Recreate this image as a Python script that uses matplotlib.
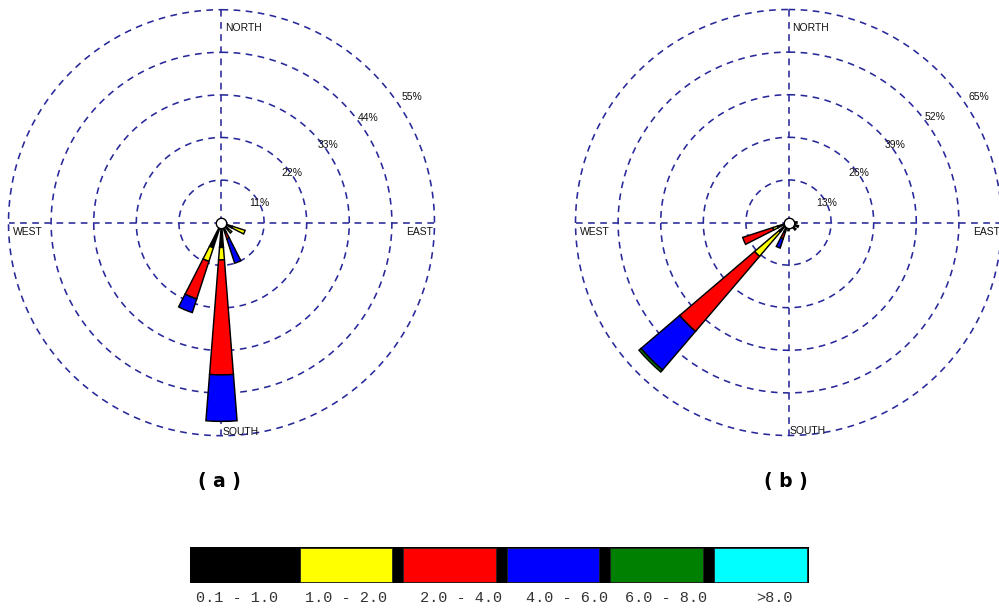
import numpy as np
import matplotlib
matplotlib.use('Agg')
import matplotlib.pyplot as plt
from matplotlib.patches import Rectangle

# ---------------- data ----------------
directions = ['N', 'NNE', 'NE', 'ENE', 'E', 'ESE', 'SE', 'SSE',
              'S', 'SSW', 'SW', 'WSW', 'W', 'WNW', 'NW', 'NNW']
speed_labels = ['0.1 - 1.0', '1.0 - 2.0', '2.0 - 4.0', '4.0 - 6.0', '6.0 - 8.0', '>8.0']
speed_colors = ['#000000', '#FFFF00', '#FF0000', '#0000FF', '#008000', '#00FFFF']

# (a) frequency (%) per direction for each wind-speed class
a_01_10 = [0, 0, 0, 0, 0, 3.0, 2.0, 2.6, 6.4, 6.8, 0, 0, 0, 0, 0, 0]
a_10_20 = [0, 0, 0, 0, 0, 3.4, 1.5, 0, 3.2, 3.7, 0, 0, 0, 0, 0, 0]
a_20_40 = [0, 0, 0, 0, 0, 0, 0, 1.8, 29.7, 10.2, 0, 0, 0, 0, 0, 0]
a_40_60 = [0, 0, 0, 0, 0, 0, 0, 6.6, 12.0, 3.7, 0, 0, 0, 0, 0, 0]
a_60_80 = [0, 0, 0, 0, 0, 0, 0, 0, 0, 0, 0, 0, 0, 0, 0, 0]
a_80_up = [0, 0, 0, 0, 0, 0, 0, 0, 0, 0, 0, 0, 0, 0, 0, 0]

# (b)
b_01_10 = [0, 0, 0, 0, 1.8, 2.0, 1.5, 0, 2.5, 3.0, 3.7, 3.5, 0, 0, 0, 0]
b_10_20 = [0, 0, 0, 0, 0.8, 1.2, 1.5, 0, 0, 0, 9.9, 1.5, 0, 0, 0, 0]
b_20_40 = [0, 0, 0, 0, 0, 0, 0, 0, 0, 2.2, 30.1, 9.7, 0, 0, 0, 0]
b_40_60 = [0, 0, 0, 0, 0, 0, 0, 0, 0, 3.0, 15.5, 0, 0, 0, 0, 0]
b_60_80 = [0, 0, 0, 0, 0, 0, 0, 0, 0, 0, 0.8, 0, 0, 0, 0, 0]
b_80_up = [0, 0, 0, 0, 0, 0, 0, 0, 0, 0, 0, 0, 0, 0, 0, 0]

rings_a = [11, 22, 33, 44, 55]
rings_b = [13, 26, 39, 52, 65]
ring_labels_a = ['11%', '22%', '33%', '44%', '55%']
ring_labels_b = ['13%', '26%', '39%', '52%', '65%']
panel_labels = ['( a )', '( b )']

# ---------------- layout ----------------
W, H = 999, 614
fig = plt.figure(figsize=(W / 100, H / 100), dpi=100)
fig.patch.set_facecolor('white')

grid_color = '#28289a'
dash = (0, (4.2, 3.4))
grid_lw = 1.15
lab_font = 'Liberation Sans'


def px_axes(cx, cy, R):
    return [(cx - R) / W, (H - cy - R) / H, 2 * R / W, 2 * R / H]


def draw_rose(cx, cy, R, classes, rings, ring_labels):
    ax = fig.add_axes(px_axes(cx, cy, R), projection='polar')
    ax.set_theta_zero_location('N')
    ax.set_theta_direction(-1)
    rmax = rings[-1]
    ax.set_ylim(0, rmax)
    ax.set_axis_off()

    # grid circles
    t = np.linspace(0, 2 * np.pi, 721)
    for r in rings:
        ax.plot(t, np.full_like(t, r), ls=dash, color=grid_color, lw=grid_lw,
                clip_on=False, zorder=1)
    # cross lines
    for ang in [0, 90, 180, 270]:
        a = np.deg2rad(ang)
        ax.plot([a, a], [0, rmax], ls=dash, color=grid_color, lw=grid_lw,
                clip_on=False, zorder=1)

    theta = np.deg2rad(np.arange(len(directions)) * 22.5)
    bottom = np.zeros(len(directions))
    for vals, col in zip(classes, speed_colors):
        v = np.asarray(vals, dtype=float)
        m = v > 0
        if m.any():
            ax.bar(theta[m], v[m], width=np.deg2rad(9), bottom=bottom[m],
                   color=col, edgecolor='black', linewidth=1.05, zorder=3)
        bottom += v

    # calm circle
    ax.plot([0], [0], 'o', ms=7.5, mfc='white', mec='black', mew=1.0,
            zorder=6, clip_on=False)

    # ring labels
    offs = [(38, -20), (70.5, -50), (106.5, -78), (147, -105), (190, -126)]
    for (dx, dy), txt in zip(offs, ring_labels):
        ax.annotate(txt, xy=(0, 0), xytext=(dx, -dy), textcoords='offset pixels',
                    ha='center', va='center', fontsize=7.5, family=lab_font,
                    color='#111111', zorder=7)
    # compass labels
    comp = [('NORTH', 4, R - 18.5, 'left'),
            ('WEST', -R + 4.5, -9.5, 'left'),
            ('EAST', R - 1.5, -9.5, 'right'),
            ('SOUTH', 1.5, -R + 4, 'left')]
    for txt, dx, dy, ha in comp:
        ax.annotate(txt, xy=(0, 0), xytext=(dx, dy), textcoords='offset pixels',
                    ha=ha, va='center', fontsize=7.5, family=lab_font,
                    color='#111111', zorder=7)
    return ax


draw_rose(221.5, 222.7, 213, [a_01_10, a_10_20, a_20_40, a_40_60, a_60_80, a_80_up],
          rings_a, ring_labels_a)
draw_rose(788.5, 222.5, 213, [b_01_10, b_10_20, b_20_40, b_40_60, b_60_80, b_80_up],
          rings_b, ring_labels_b)

# panel labels
for x, txt in zip([219, 786], panel_labels):
    fig.text(x / W, 1 - 481 / H, txt, ha='center', va='center', fontsize=13.5,
             fontweight='heavy', family='DejaVu Sans', color='black')

# ---------------- colour legend ----------------
lx0, lx1, ly0, ly1 = 190, 809, 547, 583
lax = fig.add_axes([lx0 / W, 1 - ly1 / H, (lx1 - lx0) / W, (ly1 - ly0) / H])
lax.set_xlim(lx0, lx1)
lax.set_ylim(ly1, ly0)
lax.set_axis_off()
lax.add_patch(Rectangle((lx0, ly0), lx1 - lx0, ly1 - ly0, facecolor='black',
                        edgecolor='black'))
pitch = 103.6
for i, col in enumerate(speed_colors):
    if i == 0:
        continue
    x = 196 + i * pitch
    lax.add_patch(Rectangle((x, ly0 + 1), 92.5, ly1 - ly0 - 2, facecolor=col,
                            edgecolor='#222222', linewidth=0.6))

label_x = [237, 346, 461, 567, 666, 774]
for x, txt in zip(label_x, speed_labels):
    fig.text(x / W, 1 - 598.5 / H, txt, ha='center', va='center', fontsize=11,
             family='Liberation Mono', color='#333333')

fig.savefig('out.png', dpi=100, facecolor='white')
